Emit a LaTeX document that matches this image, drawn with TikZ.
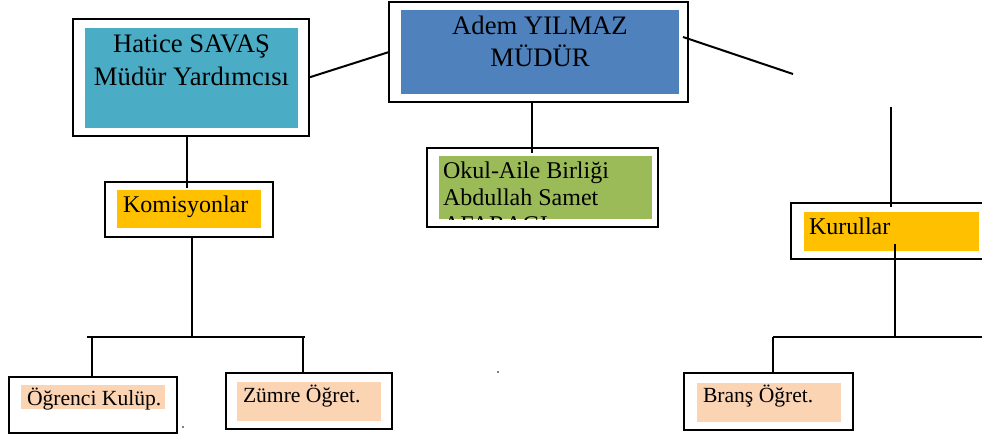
\documentclass[tikz,border=0pt]{standalone}
\usepackage{fontspec}
\setmainfont{Liberation Serif}
\usetikzlibrary{fit,calc}
\definecolor{cAdem}{HTML}{4F81BD}
\definecolor{cHat}{HTML}{4BACC6}
\definecolor{cOkul}{HTML}{9BBB59}
\definecolor{cKom}{HTML}{FFC000}
\definecolor{cSmall}{HTML}{FBD4B4}
\begin{document}
\begin{tikzpicture}[x=0.75pt,y=-0.75pt,line width=1.5pt,
  box/.style={draw=black,line width=1.6pt,inner sep=0pt,outer sep=0pt},
  fillbox/.style={inner sep=0pt,outer sep=0pt,draw=none},
  big/.style={inner sep=0pt,font=\fontsize{20}{24}\selectfont},
  mid/.style={inner sep=0pt,font=\fontsize{18}{21}\selectfont},
  small/.style={inner sep=0pt,font=\fontsize{16.2}{19}\selectfont},
  conn/.style={draw=black,line width=1.5pt}]
\useasboundingbox (0,0) rectangle (982,435);
\clip (0,0) rectangle (982,435);

% Adem YILMAZ
\node[box,fit={(389,2) (688,102)}] (adem) {};
\node[fillbox,fill=cAdem,fit={(401,10) (679,94)}] (ademfill) {};
\node[big,anchor=base] (adem1) at (540,35) {Adem YILMAZ};
\node[big,anchor=base] (adem2) at (540,67) {MÜDÜR};

% Hatice SAVAS
\node[box,fit={(73,19) (309,136)}] (hatice) {};
\node[fillbox,fill=cHat,fit={(85,28) (298,128)}] (haticefill) {};
\node[big,anchor=base] (hatice1) at (191.5,53) {Hatice SAVAŞ};
\node[big,anchor=base] (hatice2) at (191.5,85) {Müdür Yardımcısı};

% Okul-Aile Birligi
\node[box,fit={(427,148) (658,227)}] (okul) {};
\node[fillbox,fill=cOkul,fit={(439,156) (652,219)}] (okulfill) {};
\node[mid,anchor=base west] (okul1) at (442,178) {Okul-Aile Birliği};
\node[mid,anchor=base west] (okul2) at (442,205) {Abdullah Samet};
\begin{scope}
  \clip (439,156) rectangle (652,219);
  \node[mid,anchor=base west] (okul3) at (442,232) {AFARAGI};
\end{scope}

% Komisyonlar
\node[box,fit={(105,182) (273,237)}] (komis) {};
\node[fillbox,fill=cKom,fit={(117,190) (261,228)}] (komisfill) {};
\node[mid,anchor=base west] (komis1) at (122,212) {Komisyonlar};

% Kurullar
\node[box,fit={(791,203) (995,259)}] (kurul) {};
\node[fillbox,fill=cKom,fit={(804,212) (979,251)}] (kurulfill) {};
\node[mid,anchor=base west] (kurul1) at (808,234) {Kurullar};

% Ogrenci Kulup
\node[box,fit={(9,377) (177,433)}] (ogr) {};
\node[fillbox,fill=cSmall,fit={(21,385) (165,409)}] (ogrfill) {};
\node[small,anchor=base west] (ogr1) at (26,405) {Öğrenci Kulüp.};

% Zumre Ogret
\node[box,fit={(226,373) (392,429)}] (zumre) {};
\node[fillbox,fill=cSmall,fit={(237,382) (381,421)}] (zumrefill) {};
\node[small,anchor=base west] (zumre1) at (242,402) {Zümre Öğret.};

% Brans Ogret
\node[box,fit={(684,373) (853,430)}] (brans) {};
\node[fillbox,fill=cSmall,fit={(697,383) (841,422)}] (bransfill) {};
\node[small,anchor=base west] (brans1) at (702,402) {Branş Öğret.};

% free ends / junctions
\coordinate (rEnd) at (793,74);
\coordinate (kTop) at (891,107);
\coordinate (lJ) at (192,337);
\coordinate (lL) at (87,337);
\coordinate (lR) at (305,337);
\coordinate (rJ) at (895,337);
\coordinate (rL) at (773,337);
\coordinate (rR) at (990,337);

% connectors
\draw[conn] (hatice.east) -- (adem.west);
\draw[conn] ($(adem.east)+(-5,-15)$) -- (rEnd);
\draw[conn] (adem.south -| adem2.south) ++(-8,0) coordinate (aS) -- (aS |- okul.north) -- ++(0,5);
\draw[conn] (hatice.south -| 187,0) -- (komis.north -| 187,0) -- ++(0,6);
\draw[conn] (kTop) -- (kTop |- kurul.north) -- ++(0,4);
\draw[conn] (komis.south -| lJ) -- (lJ);
\draw[conn] (lL) -- (lR);
\draw[conn] (lL -| 92,0) -- (ogr.north -| 92,0);
\draw[conn] (lR -| 303,0) -- (zumre.north -| 303,0);
\draw[conn] (895,244) -- (rJ);
\draw[conn] (rL) -- (rR);
\draw[conn] (rL) -- (brans.north -| rL);

% specks
\fill (183,427) circle (0.8);
\fill (498,372) circle (0.8);
\end{tikzpicture}
\end{document}
